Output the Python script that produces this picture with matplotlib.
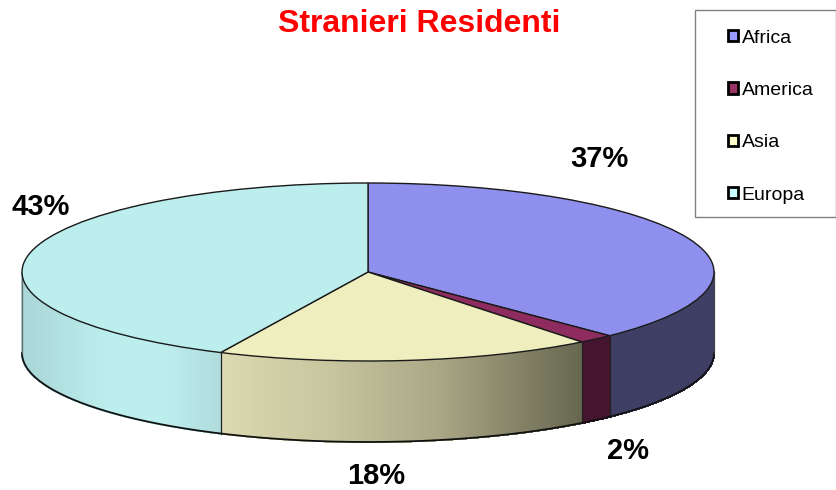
import numpy as np
import matplotlib
matplotlib.use('Agg')
import matplotlib.pyplot as plt
from matplotlib.patches import Patch, Rectangle

plt.rcParams['font.family'] = ['Liberation Sans', 'DejaVu Sans']

regioni = ['Africa', 'America', 'Asia', 'Europa']
quote = [37.7, 1.7, 17.6, 43.0]
etichette = ['37%', '2%', '18%', '43%']
colori_top = ['#8f8fee', '#8f2c5f', '#eeeebf', '#bdeeee']
colori_legenda = ['#9999ff', '#993366', '#ffffcc', '#ccffff']

W, H = 836, 490
cx, cy, rx, ry = 368, 272, 346, 89
spessore = 81 / ry


def lerp(stops, t):
    # stops: lista di (posizione, colore)
    pos = [s[0] for s in stops]
    rgb = np.array([matplotlib.colors.to_rgb(s[1]) for s in stops])
    return [np.interp(t, pos, rgb[:, i]) for i in range(3)]


# colori del bordo, in funzione della x del punto (da -1 a 1)
bordo = {
    0: [(-1, '#3f3f66'), (1, '#3f3f66')],
    1: [(-1, '#451530'), (1, '#451530')],
    2: [(-0.43, '#dcdab0'), (-0.1, '#c6c49d'), (0.2, '#a9a785'), (0.62, '#66664f')],
    3: [(-1, '#a9d6d6'), (-0.75, '#bdeeee'), (-0.6, '#bdeeee'), (-0.43, '#b0dcdc')],
}

fig = plt.figure(figsize=(W / 100, H / 100), dpi=100)
ax = fig.add_axes([0, 0, 1, 1])

wedges, _ = ax.pie(quote, colors=colori_top, startangle=90, counterclock=False, radius=1,
                   wedgeprops={'edgecolor': '#1a1a1a', 'linewidth': 1.0, 'zorder': 5})
ax.set_xlim((0 - cx) / rx, (W - cx) / rx)
ax.set_ylim((cy - H) / ry, cy / ry)
ax.set_aspect('auto')
ax.axis('off')

# parete laterale della torta
limiti = np.cumsum([0] + quote) / 100 * 360
for i in range(len(quote)):
    a0 = max(limiti[i], 90)
    a1 = min(limiti[i + 1], 270)
    if a1 <= a0:
        continue
    passi = np.linspace(a0, a1, int((a1 - a0) * 3) + 2)
    for b0, b1 in zip(passi[:-1], passi[1:]):
        t = np.radians([b0, b1])
        xs = np.sin(t)
        ys = np.cos(t)
        c = lerp(bordo[i], xs.mean())
        ax.fill([xs[0], xs[1], xs[1], xs[0]],
                [ys[0], ys[1], ys[1] - spessore, ys[0] - spessore],
                color=c, lw=1.0, antialiased=False, zorder=2)
    if i < len(quote) - 1 and 90 < limiti[i + 1] < 270:
        s = np.radians(limiti[i + 1])
        ax.plot([np.sin(s)] * 2, [np.cos(s), np.cos(s) - spessore],
                color='#222222', lw=0.9, zorder=3)

# contorno inferiore e spigoli
t = np.radians(np.linspace(90, 270, 300))
ax.plot(np.sin(t), np.cos(t) - spessore, color='#111111', lw=1.3, zorder=3)
ax.plot([1, 1], [0, -spessore], color='#444444', lw=0.9, zorder=3)
ax.plot([-1, -1], [0, -spessore], color='#666666', lw=0.9, zorder=3)

fig.text(419 / W, 1 - 24 / H, 'Stranieri Residenti', color='#ff0000', fontsize=23,
         fontweight='bold', ha='center', va='center')

pos_etichette = [(599, 159), (628, 451), (376, 476), (41, 207)]
for testo, (px, py) in zip(etichette, pos_etichette):
    fig.text(px / W, 1 - py / H, testo, fontsize=21, fontweight='bold', color='black',
             ha='center', va='center')

# legenda
fig.add_artist(Rectangle((694.5 / W, 1 - 217.5 / H), 141 / W, 207.5 / H, transform=fig.transFigure,
                         facecolor='white', edgecolor='#808080', lw=1))
maniglie = [Patch(facecolor=c, edgecolor='black', lw=2.0) for c in colori_legenda]
leg = fig.legend(maniglie, regioni, loc='upper left', bbox_to_anchor=(728 / W, 1 - 29.5 / H),
                 frameon=False, fontsize=14, borderpad=0, borderaxespad=0, handlelength=0.5,
                 handleheight=0.5, handletextpad=0.2, labelspacing=1.82)
leg.set_zorder(10)

fig.savefig('out.png', dpi=100)
